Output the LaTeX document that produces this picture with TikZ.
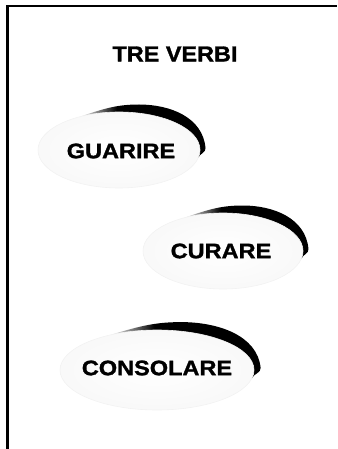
\documentclass[tikz,border=0pt]{standalone}
\usepackage{fontspec}
\setmainfont{Liberation Sans}
\newfontfamily\verbfont{Liberation Sans Bold}[FakeStretch=1.12, FakeBold=1.4]
\newfontfamily\titlefont{Liberation Sans Bold}[FakeStretch=1.09, FakeBold=1.4]
\pgfdeclarehorizontalshading{arcfade}{100bp}{color(0bp)=(white); color(25bp)=(white); color(40bp)=(black); color(100bp)=(black)}
\tikzset{
  frameline/.style={line width=2.6pt, black},
  bubble/.style={ellipse, inner sep=0pt, inner color=white, outer color=gray!5, draw=gray!10, line width=0.6pt},
  verb/.style={inner sep=0pt, font=\verbfont\fontsize{21}{21}\selectfont},
  titletext/.style={inner sep=0pt, font=\titlefont\fontsize{21.5}{21.5}\selectfont},
  crescent/.style={shading=arcfade}
}
\newcommand\crescentat[4]{%
  \begin{scope}[shift={(#1,#2)}, xscale=#3, yscale=#4]
    \path[crescent] (-40.5,32.9) to[out=18,in=180] (20,45.5) to[out=0,in=95] (86.5,2) to[out=-85,in=70] (79.2,-7.9) -- cycle;
  \end{scope}}
\usetikzlibrary{shapes.geometric}
\begin{document}
\begin{tikzpicture}[x=1pt,y=1pt]
  \useasboundingbox (0,0) rectangle (337,-449);
  \coordinate (fb) at (7.5,-449);
  \coordinate (fc) at (7.5,-6.2);
  \coordinate (fr) at (337,-6.2);
  \draw[frameline] (fb) -- (fc) -- (fr);

  \node[titletext] (title) at (175,-54) {TRE VERBI};

  % GUARIRE
  \crescentat{119}{-150}{1}{1}
  \node[bubble, minimum width=162pt, minimum height=76pt] (e1) at (119,-150) {};
  \node[verb] (t1) at (121,-151) {GUARIRE};

  % CURARE
  \crescentat{223}{-251}{0.988}{1}
  \node[bubble, minimum width=160pt, minimum height=76pt] (e2) at (223,-251) {};
  \node[verb] (t2) at (221,-251) {CURARE};

  % CONSOLARE
  \crescentat{157}{-370}{1.198}{1.053}
  \node[bubble, minimum width=194pt, minimum height=80pt] (e3) at (157,-370) {};
  \node[verb] (t3) at (157,-368) {CONSOLARE};
\end{tikzpicture}
\end{document}
